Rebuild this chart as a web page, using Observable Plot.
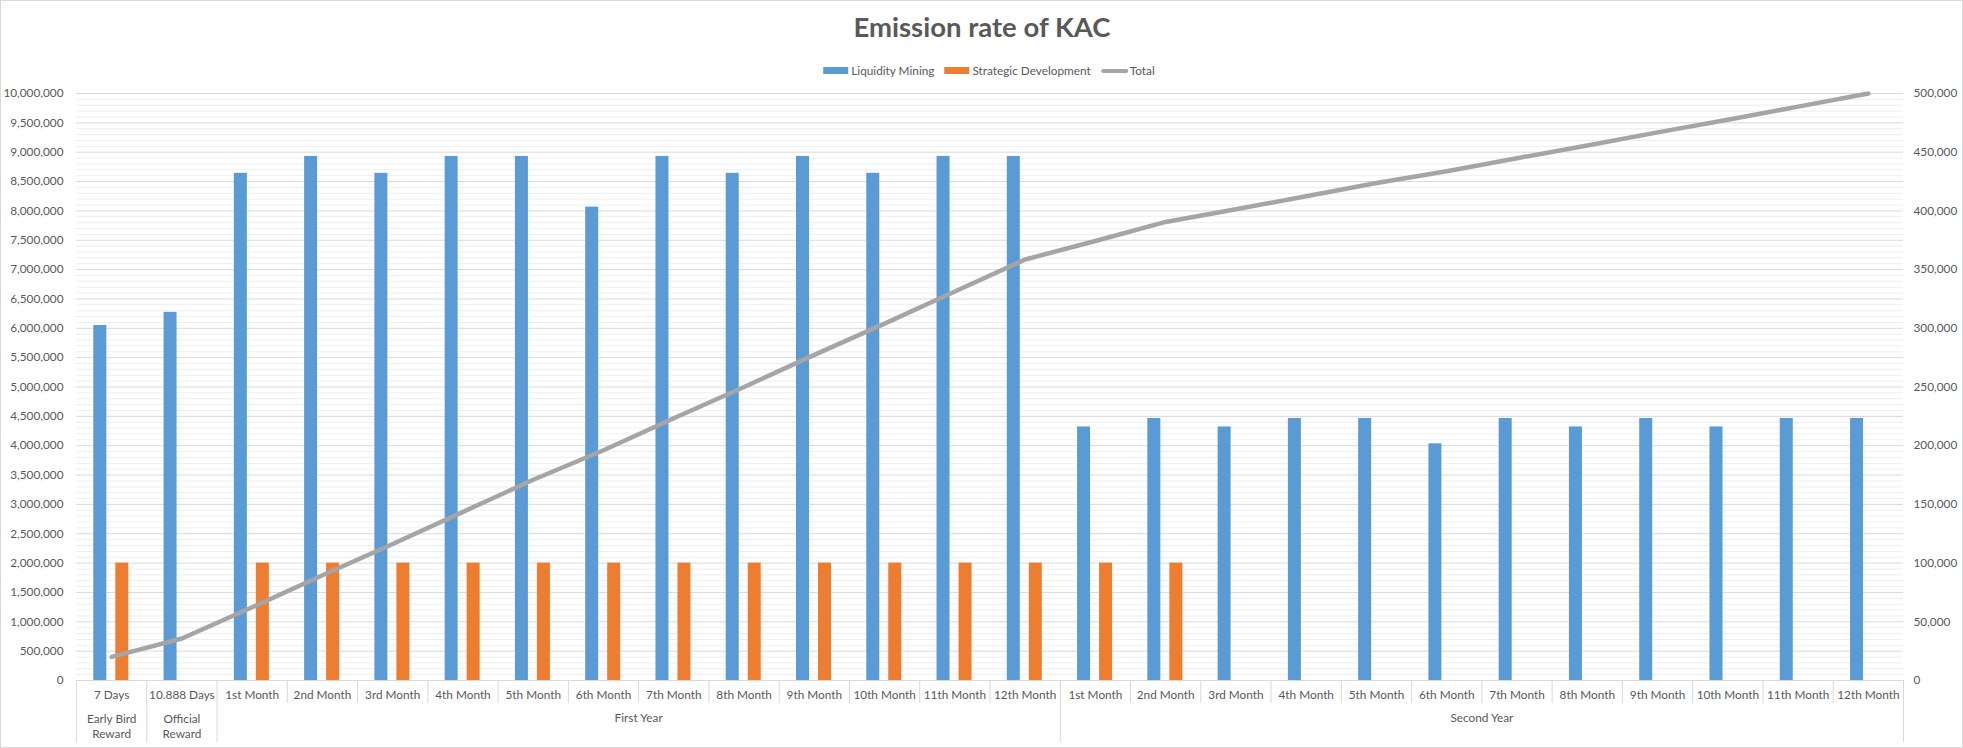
<!DOCTYPE html>
<html>
<head>
<meta charset="utf-8">
<script src="https://cdn.jsdelivr.net/npm/d3@7"></script>
<script src="https://cdn.jsdelivr.net/npm/@observablehq/plot@0.6"></script>
<style>
  body { margin: 0; background: #fff; }
  #wrap { position: relative; width: 1963px; height: 748px; font-family: Lato, "Open Sans", sans-serif; color: #595959; overflow: hidden; }
  #frame { position: absolute; left: 0; top: 0; width: 1961px; height: 746px; border: 1px solid #d9d9d9; pointer-events: none; }
  #title { position: absolute; left: 982px; top: 13px; transform: translateX(-50%); font-size: 27.5px; line-height: 27.5px; font-weight: 700; white-space: nowrap; }
  #legend { position: absolute; left: 989px; top: 63px; transform: translateX(-50%); display: flex; align-items: center; font-size: 11.8px; line-height: 15px; white-space: nowrap; }
  .item { display: flex; align-items: center; margin: 0 5px; }
  .sw { display: inline-block; width: 25px; height: 7px; margin-right: 3px; }
  .ln { display: inline-block; width: 27px; height: 4px; border-radius: 2px; margin-right: 2px; background: #A5A5A5; }
  #chart { position: absolute; left: 0; top: 0; }
</style>
</head>
<body>
<div id="wrap">
  <div id="chart"></div>
  <div id="title">Emission rate of KAC</div>
  <div id="legend">
    <span class="item"><span class="sw" style="background:#5B9BD5"></span>Liquidity Mining</span>
    <span class="item"><span class="sw" style="background:#ED7D31"></span>Strategic Development</span>
    <span class="item"><span class="ln"></span>Total</span>
  </div>
  <div id="frame"></div>
</div>
<script>
// ---- data ----
const categories = ["7 Days", "10.888 Days",
  "1st Month", "2nd Month", "3rd Month", "4th Month", "5th Month", "6th Month",
  "7th Month", "8th Month", "9th Month", "10th Month", "11th Month", "12th Month",
  "1st Month", "2nd Month", "3rd Month", "4th Month", "5th Month", "6th Month",
  "7th Month", "8th Month", "9th Month", "10th Month", "11th Month", "12th Month"];

const liquidityMining = [6048000, 6271488,
  8640000, 8928000, 8640000, 8928000, 8928000, 8064000, 8928000, 8640000, 8928000, 8640000, 8928000, 8928000,
  4320000, 4464000, 4320000, 4464000, 4464000, 4032000, 4464000, 4320000, 4464000, 4320000, 4464000, 4464000];

const strategicDevelopment = [2000000, null,
  2000000, 2000000, 2000000, 2000000, 2000000, 2000000, 2000000, 2000000, 2000000, 2000000, 2000000, 2000000,
  2000000, 2000000, null, null, null, null, null, null, null, null, null, null];

// Total (secondary axis, 0 – 500,000)
const total = [20100, 35800,
  62400, 89700, 116300, 143600, 171000, 196100, 223400, 250000, 277400, 304000, 331300, 358600,
  374400, 390600, 401400, 412500, 423700, 433800, 444900, 455700, 466900, 477700, 488800, 500000];

// outer category groups
const groupNames = ["Early Bird\nReward", "Official\nReward", "First Year", "Second Year"];
const groupFirst = [0, 1, 2, 14];
const groupLast = [0, 1, 13, 25];

const leftTicks = d3.range(0, 10000001, 500000);
const rightTicks = [0, 50000, 100000, 150000, 200000, 250000, 300000, 350000, 400000, 450000, 500000];

// ---- build table ----
const rows = categories.map((c, i) => ({i, cat: c, lm: liquidityMining[i], sd: strategicDevelopment[i], total: total[i]}));
const secondaryFactor = 10000000 / 500000; // maps the right axis onto the left one

const W = 1963, H = 748, mL = 76, mR = 60, mT = 93, mB = 68;
const bw = (W - mL - mR) / categories.length;

const groupStartSet = new Set(groupFirst);
const boundaries = d3.range(categories.length).map(i => ({i, long: groupStartSet.has(i)}));
const groupLabels = groupNames.map((g, k) => ({name: g, a: groupFirst[k], b: groupLast[k], two: g.includes("\n")}));

const fmt = d3.format(",");
const FS = 11.8;

const chart = Plot.plot({
  width: W, height: H,
  marginLeft: mL, marginRight: mR, marginTop: mT, marginBottom: mB,
  style: {fontFamily: "Lato, 'Open Sans', sans-serif", fontSize: FS + "px", color: "#595959", background: "transparent"},
  x: {type: "band", domain: d3.range(categories.length), padding: 0, round: false, axis: null},
  y: {domain: [0, 10000000], axis: null},
  marks: [
    Plot.ruleY(d3.range(0, 10000001, 100000).filter(v => v % 500000 !== 0), {stroke: "#eeeeee", strokeWidth: 1}),
    Plot.ruleY(leftTicks, {stroke: "#d9d9d9", strokeWidth: 1}),
    Plot.barY(rows, {x: "i", y: "lm", fill: "#5B9BD5", insetLeft: 17.3, insetRight: bw - 30.3}),
    Plot.barY(rows.filter(d => d.sd != null), {x: "i", y: "sd", fill: "#ED7D31", insetLeft: 39.3, insetRight: bw - 52.3}),
    Plot.line(rows, {x: "i", y: d => d.total * secondaryFactor, stroke: "#A5A5A5", strokeWidth: 4.5, strokeLinecap: "round", strokeLinejoin: "round", curve: "linear"}),
    Plot.axisY(leftTicks, {anchor: "left", tickSize: 0, tickPadding: 13, tickFormat: fmt, fill: "#595959", fontSize: FS}),
    Plot.axisY(rightTicks.map(v => v * secondaryFactor), {anchor: "right", tickSize: 0, tickPadding: 10, tickFormat: d => fmt(d / secondaryFactor), fill: "#595959", fontSize: FS}),
    // category separators below the axis
    Plot.ruleX(boundaries.filter(d => !d.long), {x: "i", y1: 0, y2: 0, dx: -bw / 2, insetBottom: -23, stroke: "#d9d9d9"}),
    Plot.ruleX(boundaries.filter(d => d.long), {x: "i", y1: 0, y2: 0, dx: -bw / 2, insetBottom: -62, stroke: "#d9d9d9"}),
    Plot.ruleX([categories.length - 1], {x: d => d, y1: 0, y2: 0, dx: bw / 2, insetBottom: -62, stroke: "#d9d9d9"}),
    // category labels
    Plot.text(rows, {x: "i", text: "cat", frameAnchor: "bottom", lineAnchor: "middle", dy: 15, fill: "#595959", fontSize: FS}),
    // group labels
    Plot.text(groupLabels.filter(d => d.two), {x: "a", text: "name", frameAnchor: "bottom", lineAnchor: "middle", dy: 45.5, lineHeight: 1.27, fill: "#595959", fontSize: FS}),
    Plot.text(groupLabels.filter(d => !d.two), {x: d => Math.floor((d.a + d.b) / 2), text: "name", frameAnchor: "bottom", lineAnchor: "middle", dx: bw / 2, dy: 37.5, fill: "#595959", fontSize: FS})
  ]
});
document.getElementById("chart").appendChild(chart);
</script>
</body>
</html>
